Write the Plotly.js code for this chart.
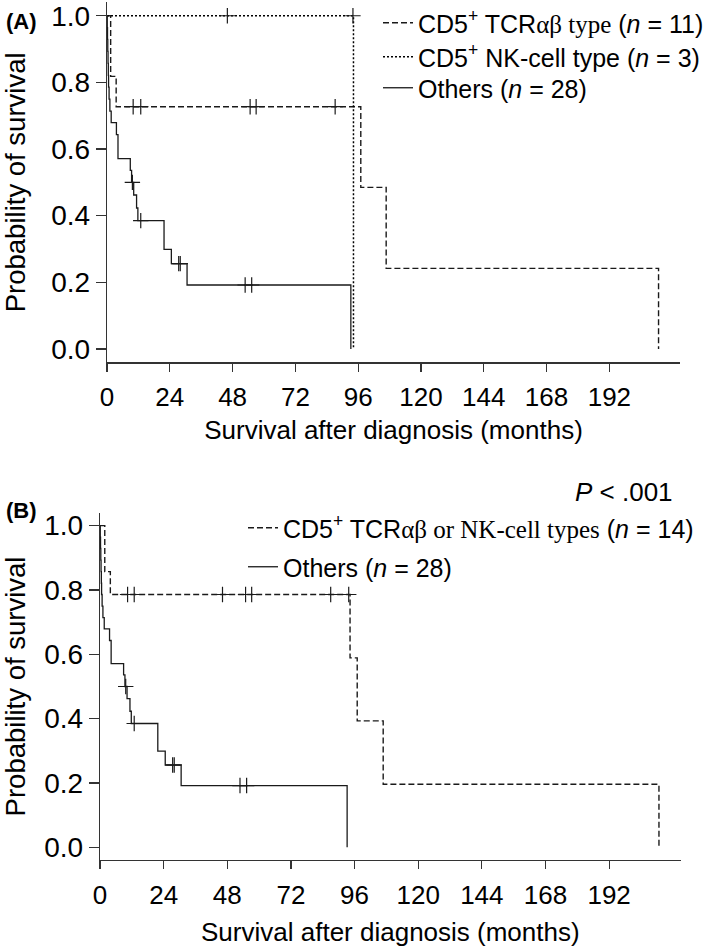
<!DOCTYPE html>
<html>
<head>
<meta charset="utf-8">
<script src="https://cdn.plot.ly/plotly-3.0.1.min.js"></script>
<style>
  html, body { margin: 0; padding: 0; background: #fff; overflow: hidden; }
  #chart { width: 709px; height: 947px; }
</style>
</head>
<body>
<div id="chart"></div>
<script>
// ---------- Data ----------
// Panel A: CD5+ TCRαβ type (n = 11) — Kaplan–Meier step points
const tcrTimes = [0, 1.4, 3.5, 97, 106.7, 210.8];
const tcrSurv  = [1, 0.818, 0.727, 0.485, 0.242, 0];
const tcrCensorTimes = [10, 12.9, 54.7, 57, 87.2];
const tcrCensorSurv  = [0.727, 0.727, 0.727, 0.727, 0.727];

// Panel A: CD5+ NK-cell type (n = 3)
const nkTimes = [0, 94.2];
const nkSurv  = [1, 0];
const nkCensorTimes = [46, 94.0];
const nkCensorSurv  = [1, 1];

// Others (n = 28) — same group in both panels
const othTimes = [0, 0.1, 0.2, 0.3, 0.4, 0.5, 0.6, 0.8, 1.1, 1.6, 3.6, 4.2, 8.9, 9.4, 10.2, 11.3, 11.8, 21.8, 24.6, 30.6, 93.2];
const othSurv  = [1, 0.964, 0.929, 0.893, 0.857, 0.821, 0.786, 0.75, 0.714, 0.679, 0.643, 0.571, 0.536, 0.5, 0.462, 0.423, 0.385, 0.299, 0.256, 0.192, 0];
const othCensorTimes = [9.7, 12.9, 27.4, 28.0, 52.8, 55.3];
const othCensorSurv  = [0.5, 0.385, 0.256, 0.256, 0.192, 0.192];

// Panel B: CD5+ TCRαβ or NK-cell types (n = 14)
const combTimes = [0, 1.8, 3.9, 94.3, 97, 106.8, 210.8];
const combSurv  = [1, 0.857, 0.786, 0.589, 0.393, 0.196, 0];
const combCensorTimes = [10.4, 12.9, 46.2, 54.9, 57.2, 87, 93.8];
const combCensorSurv  = [0.786, 0.786, 0.786, 0.786, 0.786, 0.786, 0.786];

// Axis ticks
const xTickVals = [0, 24, 48, 72, 96, 120, 144, 168, 192];
const yTickVals = [0, 0.2, 0.4, 0.6, 0.8, 1.0];

// Legend labels
const SERIF = "Liberation Serif, Times New Roman, serif";
const labelTcr  = "CD5<sup>+</sup> TCR<span style=\"font-family:" + SERIF + "\">αβ type</span> (<i>n</i> = 11)";
const labelNk   = "CD5<sup>+</sup> NK-cell type (<i>n</i> = 3)";
const labelOth  = "Others (<i>n</i> = 28)";
const labelComb = "CD5<sup>+</sup> TCR<span style=\"font-family:" + SERIF + "\">αβ or NK-cell types</span> (<i>n</i> = 14)";

// ---------- Styles ----------
const INK = "#1a1a1a";
const AX = "#333333";
const SANS = "Liberation Sans, Arial, sans-serif";
const solid  = {color: INK, width: 1.3, shape: "hv"};
const dashed = {color: INK, width: 1.4, shape: "hv", dash: "6px,3px"};
const dotted = {color: "#000", width: 1.5, shape: "hv", dash: "2px,2px"};
const cens = {symbol: "cross-thin", size: 11, color: INK, line: {color: INK, width: 1.2}};

function stepTrace(x, y, line, name, xa, ya, legend) {
  return {type: "scatter", mode: "lines", x: x, y: y, line: line, name: name,
          xaxis: xa, yaxis: ya, legend: legend, hoverinfo: "skip"};
}
function censorTrace(x, y, xa, ya) {
  return {type: "scatter", mode: "markers", x: x, y: y, marker: cens, showlegend: false,
          xaxis: xa, yaxis: ya, hoverinfo: "skip"};
}

const traces = [
  stepTrace(tcrTimes, tcrSurv, dashed, labelTcr, "x", "y", "legend"),
  stepTrace(nkTimes, nkSurv, dotted, labelNk, "x", "y", "legend2"),
  stepTrace(othTimes, othSurv, solid, labelOth, "x", "y", "legend3"),
  censorTrace(tcrCensorTimes, tcrCensorSurv, "x", "y"),
  censorTrace(nkCensorTimes, nkCensorSurv, "x", "y"),
  censorTrace(othCensorTimes, othCensorSurv, "x", "y"),

  stepTrace(combTimes, combSurv, dashed, labelComb, "x2", "y2", "legend4"),
  stepTrace(othTimes, othSurv, solid, labelOth, "x2", "y2", "legend5"),
  censorTrace(combCensorTimes, combCensorSurv, "x2", "y2"),
  censorTrace(othCensorTimes, othCensorSurv, "x2", "y2")
];

const W = 709, H = 947;
function xa(domain, anchor, standoff) {
  return {
    domain: domain, anchor: anchor, range: [0, 219], tickmode: "array", tickvals: xTickVals,
    showline: true, linecolor: AX, linewidth: 1.2, ticks: "outside", ticklen: 8, tickwidth: 1.2,
    tickcolor: AX, showgrid: false, zeroline: false, ticklabelstandoff: 3,
    tickfont: {family: SANS, size: 26, color: "#000"},
    title: {text: "Survival after diagnosis (months)", font: {family: SANS, size: 26, color: "#000"}, standoff: standoff},
    automargin: false, fixedrange: true
  };
}
function ya(domain, anchor) {
  return {
    domain: domain, anchor: anchor, range: [-0.04, 1.04], tickmode: "array", tickvals: yTickVals,
    tickformat: ".1f",
    showline: true, linecolor: AX, linewidth: 1.2, ticks: "outside", ticklen: 10, tickwidth: 1.2,
    tickcolor: AX, showgrid: false, zeroline: false, ticklabelstandoff: 0,
    tickfont: {family: SANS, size: 28, color: "#000"},
    title: {text: "Probability of survival", font: {family: SANS, size: 27.5, color: "#000"}, standoff: 17},
    automargin: false, fixedrange: true
  };
}
function leg(xpx, ypx) {
  return {
    x: xpx / W, y: 1 - ypx / H, xanchor: "left", yanchor: "middle",
    bgcolor: "rgba(0,0,0,0)", borderwidth: 0,
    font: {family: SANS, size: 25, color: "#000"}, itemclick: false, itemdoubleclick: false
  };
}

const layout = {
  width: W, height: H,
  margin: {l: 0, r: 0, t: 0, b: 0, autoexpand: false},
  paper_bgcolor: "#fff", plot_bgcolor: "#fff",
  font: {family: SANS, color: "#000"},
  showlegend: true,
  xaxis:  xa([107 / W, 680 / W], "y", 10),
  yaxis:  ya([1 - 362.3 / H, 1 - 2.4 / H], "x"),
  xaxis2: xa([100 / W, 680.7 / W], "y2", 14),
  yaxis2: ya([1 - 860.2 / H, 1 - 512.8 / H], "x2"),
  legend:  leg(378, 23),
  legend2: leg(378, 57),
  legend3: leg(378, 88),
  legend4: leg(243, 528),
  legend5: leg(243, 567),
  annotations: [
    {text: "<b>(A)</b>", xref: "paper", yref: "paper", x: 4 / W, y: 1 - 22 / H,
     xanchor: "left", yanchor: "middle", showarrow: false, font: {family: SANS, size: 22, color: "#000"}},
    {text: "<b>(B)</b>", xref: "paper", yref: "paper", x: 4 / W, y: 1 - 510 / H,
     xanchor: "left", yanchor: "middle", showarrow: false, font: {family: SANS, size: 22, color: "#000"}},
    {text: "<i>P</i> < .001", xref: "paper", yref: "paper", x: 675 / W, y: 1 - 492 / H,
     xanchor: "right", yanchor: "middle", showarrow: false, font: {family: SANS, size: 26, color: "#000"}}
  ]
};

Plotly.newPlot("chart", traces, layout, {displayModeBar: false, staticPlot: true});
</script>
</body>
</html>
